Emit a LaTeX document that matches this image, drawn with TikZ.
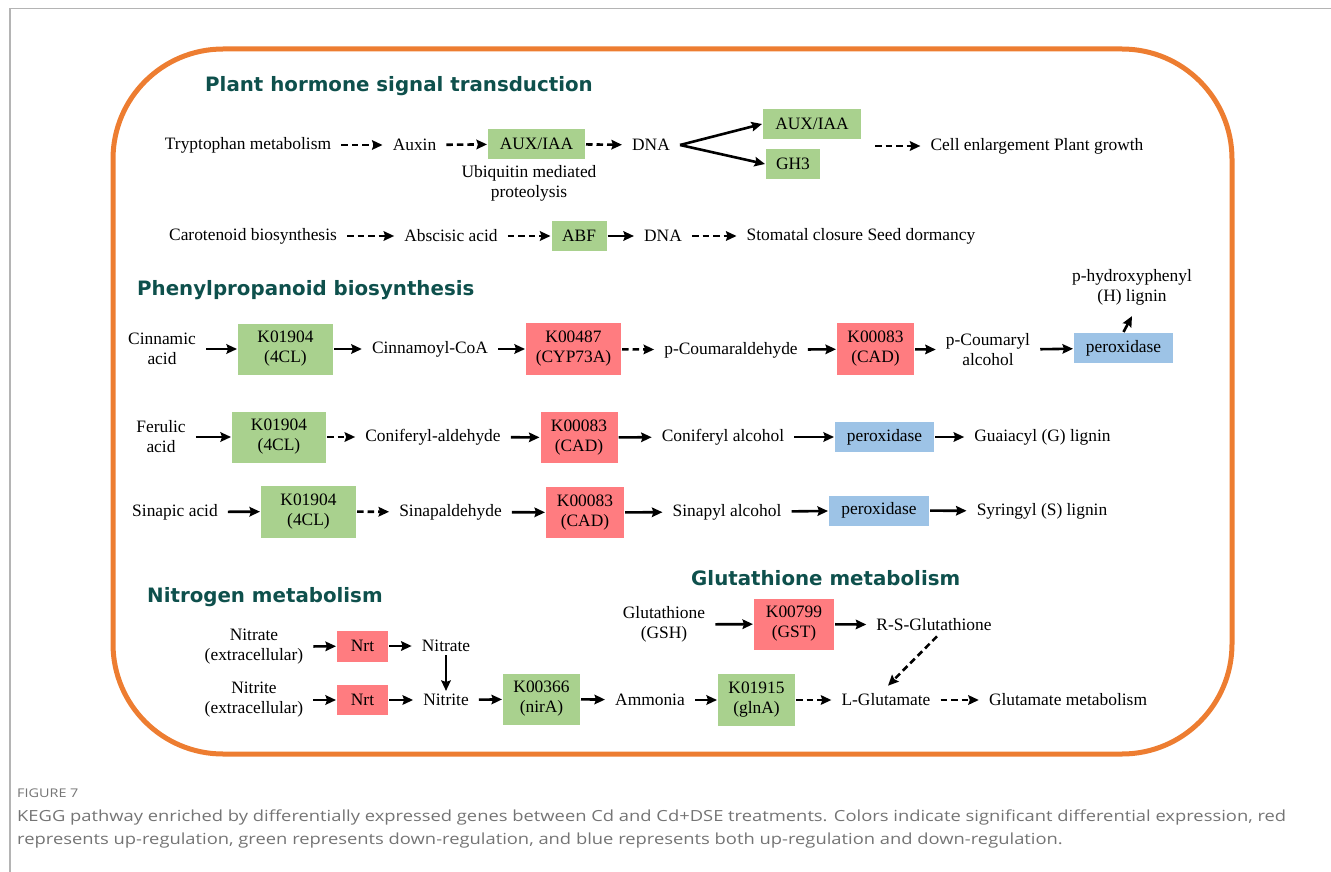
\documentclass[tikz,border=0pt]{standalone}
\usepackage{fontspec}
\setmainfont{Liberation Serif}
\newfontfamily\headfont{DejaVu Sans}
\newfontfamily\capfont[FakeStretch=1.2]{Open Sans}
\usetikzlibrary{arrows.meta,calc}
\definecolor{cgreen}{HTML}{A9D18E}
\definecolor{cred}{HTML}{FF7C80}
\definecolor{cblue}{HTML}{9DC3E6}
\definecolor{corange}{HTML}{ED7D31}
\definecolor{cteal}{HTML}{0E504C}
\definecolor{cframe}{HTML}{B4B4B4}
\definecolor{ccap}{HTML}{747474}
\begin{document}
\begin{tikzpicture}[x=1pt,y=-1pt,
  txt/.style={font=\fontsize{17.4}{20}\selectfont, align=center, inner xsep=10pt, inner ysep=3pt},
  box/.style={font=\fontsize{17.4}{20}\selectfont, align=center, inner sep=0pt, outer sep=1pt},
  sz/.style n args={2}{minimum width=#1pt, minimum height=#2pt},
  gbox/.style={box, fill=cgreen},
  rbox/.style={box, fill=cred},
  bbox/.style={box, fill=cblue},
  head/.style={font=\headfont\bfseries\fontsize{19.8}{24}\selectfont, text=cteal, anchor=base west, inner sep=0pt},
  captxt/.style={font=\capfont\fontsize{15.3}{18}\selectfont, text=ccap, anchor=base west, inner sep=0pt},
  arr/.style={-{Stealth[length=10.5pt,width=9.5pt,inset=1.5pt]}, line width=2.6pt},
  darr/.style={arr, dash pattern=on 6.5pt off 4pt}
]
\useasboundingbox (0,0) rectangle (1331,872);
% page frame
\draw[cframe, line width=1.5pt] (10,872) -- (10,8.5) -- (1331,8.5);
% orange frame
\draw[corange, line width=5pt, rounded corners=110pt] (113,49) rectangle (1232,754);

% ---------- Plant hormone signal transduction ----------
\node[head] (t1) at (205,92) {Plant hormone signal transduction};
\node[txt] (trp) at (248,145) {Tryptophan metabolism};
\node[txt] (auxin) at (414.5,145) {Auxin};
\node[gbox, sz={97}{30}] (aux1) at (536.5,144) {AUX/IAA};
\node[txt] (dna1) at (651,145) {DNA};
\node[gbox, sz={98}{30}] (aux2) at (812,124) {AUX/IAA};
\node[gbox, sz={54}{30}] (gh3) at (793,164) {GH3};
\node[txt] (cell) at (1037,146) {Cell enlargement Plant growth};
\node[txt] (ubiq) at (529,183) {Ubiquitin mediated\\proteolysis};
\coordinate (cellin) at (875,146);
\draw[darr] (trp) -- (auxin);
\draw[darr] (auxin) -- (aux1);
\draw[darr] (aux1) -- (dna1);
\draw[arr] (dna1.east) -- (aux2.west);
\draw[arr] (dna1.east) -- (gh3.west);
\draw[darr] (cellin) -- (cell);

\node[txt] (caro) at (253,236) {Carotenoid biosynthesis};
\node[txt] (absc) at (451,236) {Abscisic acid};
\node[gbox, sz={55}{30}] (abf) at (579,236) {ABF};
\node[txt] (dna2) at (663,236) {DNA};
\node[txt] (stom) at (861,236) {Stomatal closure Seed dormancy};
\draw[darr] (caro) -- (absc);
\draw[darr] (absc) -- (abf);
\draw[arr] (abf) -- (dna2);
\draw[darr] (dna2) -- (stom);

% ---------- Phenylpropanoid biosynthesis ----------
\node[head] (t2) at (137,295) {Phenylpropanoid biosynthesis};
\node[txt] (cinn) at (162,349) {Cinnamic\\acid};
\node[gbox, sz={95}{51}] (k1) at (285.5,349) {K01904\\(4CL)};
\node[txt] (cinnco) at (430,349) {Cinnamoyl-CoA};
\node[rbox, sz={95}{52}] (k2) at (573.5,349) {K00487\\(CYP73A)};
\node[txt] (pcald) at (731,350) {p-Coumaraldehyde};
\node[rbox, sz={77}{52}] (k3) at (875.5,349) {K00083\\(CAD)};
\node[txt] (pcalc) at (988,350) {p-Coumaryl\\alcohol};
\node[bbox, sz={99}{30}] (per1) at (1123.5,348) {peroxidase};
\node[txt] (hlig) at (1132,287) {p-hydroxyphenyl\\(H) lignin};
\draw[arr] (cinn) -- (k1);
\draw[arr] (k1) -- (cinnco);
\draw[arr] (cinnco) -- (k2);
\draw[darr] (k2) -- (pcald);
\draw[arr] (pcald) -- (k3);
\draw[arr] (k3) -- (pcalc);
\draw[arr] (pcalc) -- (per1);
\draw[arr] (per1.north) -- ($(hlig.south)+(0,8)$);

\node[txt] (fer) at (161,437) {Ferulic\\acid};
\node[gbox, sz={94}{51}] (k4) at (279,437) {K01904\\(4CL)};
\node[txt] (conald) at (433,437) {Coniferyl-aldehyde};
\node[rbox, sz={77}{51}] (k5) at (579,437.5) {K00083\\(CAD)};
\node[txt] (conalc) at (723,437) {Coniferyl alcohol};
\node[bbox, sz={99}{30}] (per2) at (884.5,437) {peroxidase};
\node[txt] (glig) at (1042.5,437) {Guaiacyl (G) lignin};
\draw[arr] (fer) -- (k4);
\draw[darr] (k4) -- (conald);
\draw[arr] (conald) -- (k5);
\draw[arr] (k5) -- (conalc);
\draw[arr] (conalc) -- (per2);
\draw[arr] (per2) -- (glig);

\node[txt] (sin) at (175,512) {Sinapic acid};
\node[gbox, sz={95}{52}] (k6) at (308.5,511.5) {K01904\\(4CL)};
\node[txt] (sinald) at (450.5,512) {Sinapaldehyde};
\node[rbox, sz={78}{51}] (k7) at (585,512.5) {K00083\\(CAD)};
\node[txt] (sinalc) at (727,512) {Sinapyl alcohol};
\node[bbox, sz={100}{30}] (per3) at (879,510.5) {peroxidase};
\node[txt] (slig) at (1042,511) {Syringyl (S) lignin};
\draw[arr] (sin) -- (k6);
\draw[darr] (k6) -- (sinald);
\draw[arr] (sinald) -- (k7);
\draw[arr] (k7) -- (sinalc);
\draw[arr] (sinalc) -- (per3);
\draw[arr] (per3) -- (slig);

% ---------- Nitrogen metabolism ----------
\node[head] (t3) at (147,602) {Nitrogen metabolism};
\node[txt] (nitx) at (254,647) {Nitrate\\(extracellular)};
\node[rbox, sz={51}{31}] (nrt1) at (362.5,646) {Nrt};
\node[txt] (nitrate) at (446,646) {Nitrate};
\node[txt] (nitix) at (254,700) {Nitrite\\(extracellular)};
\node[rbox, sz={51}{30}] (nrt2) at (362.5,700) {Nrt};
\node[txt] (nitrite) at (446,700) {Nitrite};
\node[gbox, sz={77}{51}] (k8) at (541.5,699) {K00366\\(nirA)};
\node[txt] (ammonia) at (650,700) {Ammonia};
\node[gbox, sz={77}{52}] (k9) at (756.5,700) {K01915\\(glnA)};
\node[txt] (lglu) at (886,700) {L-Glutamate};
\node[txt] (glum) at (1068,700) {Glutamate metabolism};
\draw[arr] (nitx) -- (nrt1);
\draw[arr] (nrt1) -- (nitrate);
\draw[arr] (nitrate) -- (nitrite);
\draw[arr] (nitix) -- (nrt2);
\draw[arr] (nrt2) -- (nitrite);
\draw[arr] (nitrite) -- (k8);
\draw[arr] (k8) -- (ammonia);
\draw[arr] (ammonia) -- (k9);
\draw[darr] (k9) -- (lglu);
\draw[darr] (lglu) -- (glum);

% ---------- Glutathione metabolism ----------
\node[head] (t4) at (691,585) {Glutathione metabolism};
\node[txt] (gsh) at (664,624.5) {Glutathione\\(GSH)};
\node[rbox, sz={80}{51}] (k10) at (794,624) {K00799\\(GST)};
\node[txt] (rsg) at (934,625) {R-S-Glutathione};
\draw[arr] (gsh) -- (k10);
\draw[arr] (k10) -- (rsg);
\draw[darr] ($(rsg.south)+(3,2)$) -- ($(lglu.north)+(2,-5)$);

% ---------- caption ----------
\node[captxt, font=\capfont\fontsize{12}{14}\selectfont] (fig) at (17,797) {FIGURE 7};
\node[captxt] (cap1) at (17,821) {KEGG pathway enriched by differentially expressed genes between Cd and Cd+DSE treatments. Colors indicate significant differential expression, red};
\node[captxt] (cap2) at (17,844) {represents up-regulation, green represents down-regulation, and blue represents both up-regulation and down-regulation.};
\end{tikzpicture}
\end{document}
